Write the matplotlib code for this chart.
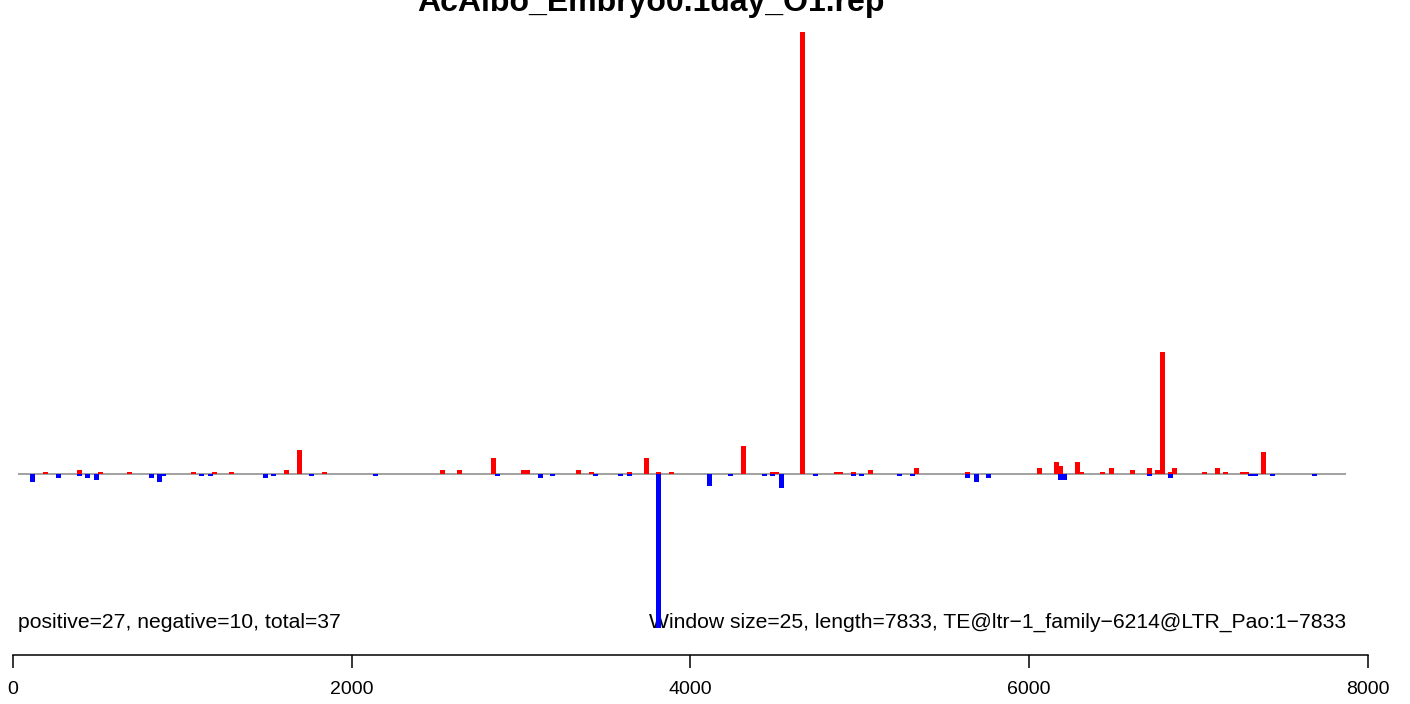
import numpy as np
import matplotlib
matplotlib.use("Agg")
import matplotlib.pyplot as plt

plt.rcParams['font.family'] = ['Liberation Sans', 'DejaVu Sans']

# positive (red) windows: position, height
pos_x = [192, 393, 517, 688, 1066, 1190, 1290, 1615, 1691, 1839, 2536, 2636,
         2837, 3014, 3037, 3339, 3415, 3640, 3740, 3811, 3888, 4313, 4484,
         4511, 4661, 4862, 4886, 4962, 5063, 5334, 5635, 6061, 6161, 6187,
         6285, 6310, 6433, 6486, 6610, 6710, 6757, 6787, 6831, 6857, 7034,
         7111, 7159, 7256, 7283, 7383]
pos_h = [1, 2, 1, 1, 1, 1, 1, 2, 12, 1, 2, 2,
         8, 2, 2, 2, 1, 1, 8, 1, 1, 14, 1,
         1, 221, 1, 1, 1, 2, 3, 1, 3, 6, 4,
         6, 1, 1, 3, 2, 3, 2, 61, 1, 3, 1,
         3, 1, 1, 1, 11]

# negative (blue) windows: position, depth
neg_x = [115, 269, 393, 440, 493, 818, 865, 891, 1113, 1166, 1491, 1538,
         1762, 2140, 2860, 3114, 3185, 3439, 3587, 3640, 3811, 4112, 4236,
         4437, 4484, 4537, 4738, 4962, 5009, 5234, 5311, 5635, 5689, 5759,
         6182, 6208, 6710, 6834, 7306, 7336, 7436, 7684]
neg_h = [4, 2, 1, 2, 3, 2, 4, 1, 1, 1, 2, 1,
         1, 1, 1, 2, 1, 1, 1, 1, 77, 6, 1,
         1, 1, 7, 1, 1, 1, 1, 1, 2, 4, 2,
         3, 3, 1, 2, 1, 1, 1, 1]

window = 25
seq_len = 7833
title = "AcAlbo_Embryo0.1day_O1.rep"
left_note = "positive=27, negative=10, total=37"
right_note = "Window size=25, length=7833, TE@ltr\u22121_family\u22126214@LTR_Pao:1\u22127833"
xticks = [0, 2000, 4000, 6000, 8000]

W, H = 1410, 704
fig = plt.figure(figsize=(W / 100, H / 100), dpi=100)
top_px, bot_px = 32, 628
ax = fig.add_axes([0, (H - bot_px) / H, 1, (bot_px - top_px) / H])

ax.bar(pos_x, pos_h, width=window, color='#ff0000', linewidth=0, zorder=3)
ax.bar(neg_x, -np.array(neg_h), width=window, color='#0000ff', linewidth=0, zorder=3)

x0_px, scale = 13, 1355 / 8000
ax.set_xlim(-x0_px / scale, (W - x0_px) / scale)
ax.set_ylim(-max(neg_h), max(pos_h))
ax.hlines(0, (18 - x0_px) / scale, (1346 - x0_px) / scale, color='#9a9a9a', lw=1.3, zorder=2)

for s in ['top', 'left', 'right']:
    ax.spines[s].set_visible(False)
ax.spines['bottom'].set_position(('outward', 27 * 0.72))
ax.spines['bottom'].set_bounds(0, 8000)
ax.spines['bottom'].set_linewidth(1.1)
ax.set_yticks([])
ax.set_xticks(xticks)
ax.set_xticklabels([str(t) for t in xticks], fontsize=14)
ax.tick_params(axis='x', length=9.5, width=1.1, pad=9)

fig.text(651 / W, 1 - 11.5 / H, title, ha='center', va='baseline',
         fontsize=23, fontweight='bold')
# notes sit under the bars (the big blue bar runs over the "W")
ax.text(18 / W, 1 - 622 / H, left_note, transform=fig.transFigure,
        ha='left', va='center', fontsize=15.2, zorder=1, clip_on=False)
ax.text(1346 / W, 1 - 622 / H, right_note, transform=fig.transFigure,
        ha='right', va='center', fontsize=15.2, zorder=1, clip_on=False)

fig.savefig("out.png", dpi=100)
